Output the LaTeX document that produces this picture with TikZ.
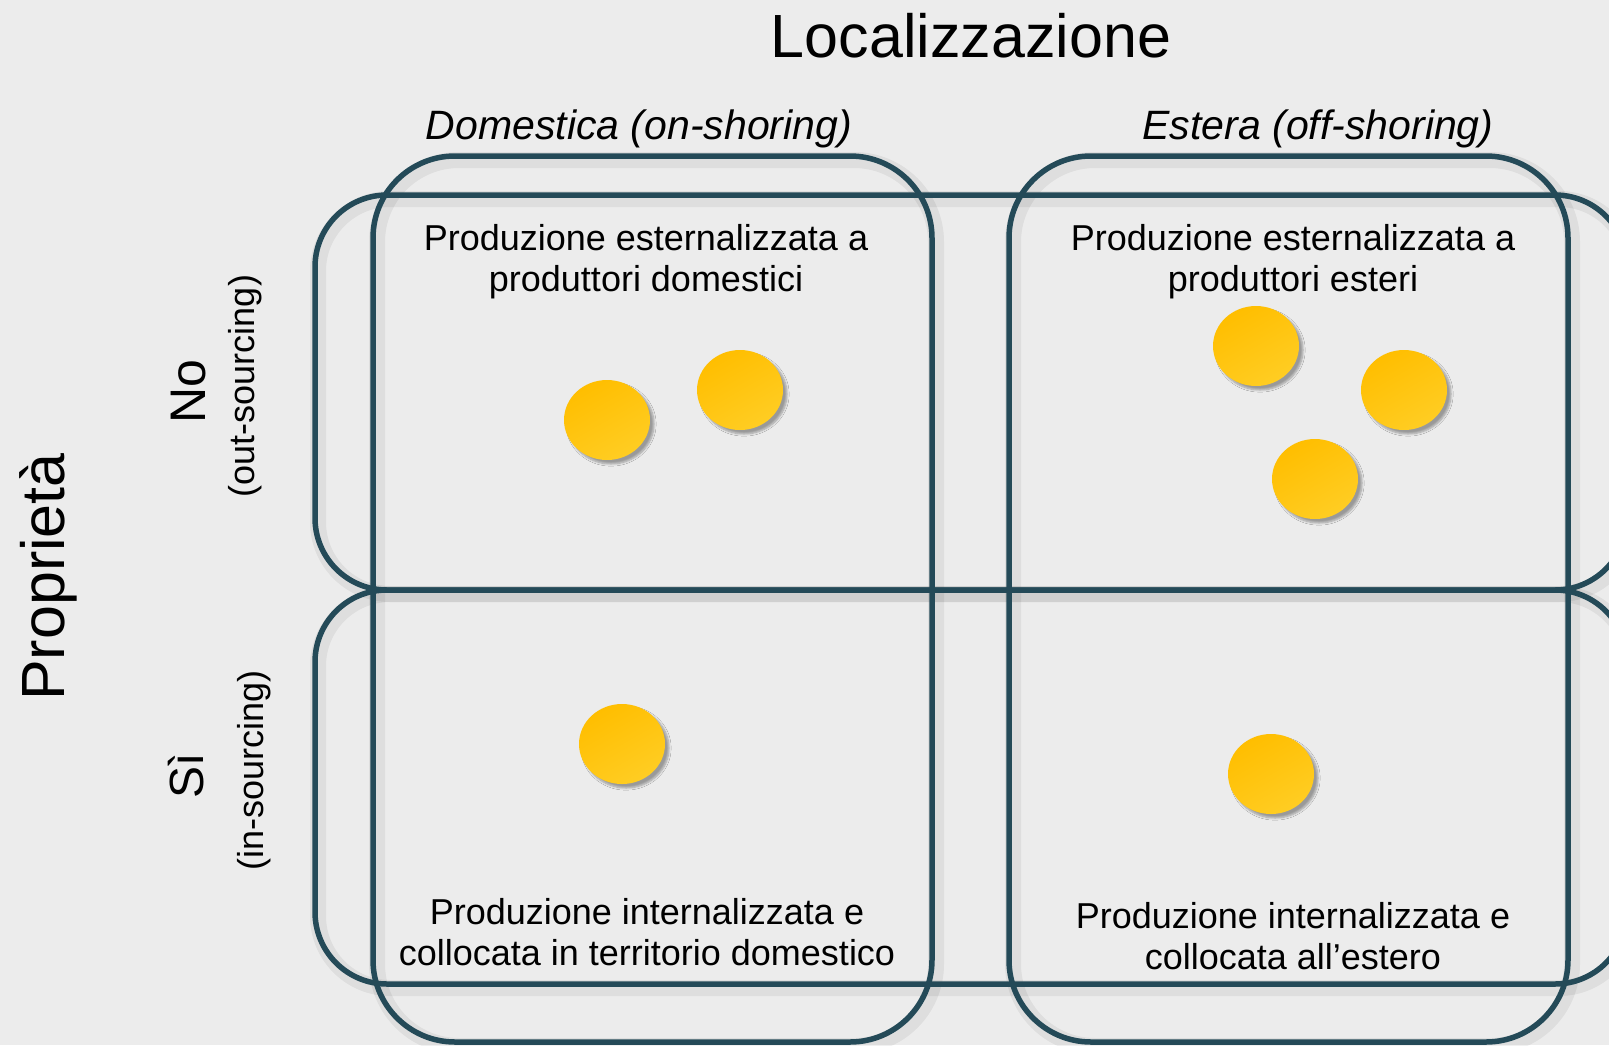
\documentclass[tikz,border=0pt]{standalone}
\usepackage{fontspec}
\setmainfont{Liberation Sans}
\usetikzlibrary{shapes.geometric,shadows.blur}
\definecolor{bg}{RGB}{236,236,236}
\definecolor{frame}{RGB}{36,74,88}
\definecolor{coinA}{RGB}{255,190,0}
\definecolor{coinB}{RGB}{255,205,35}
\begin{document}
\begin{tikzpicture}[x=1pt,y=-1pt,
  box/.style={draw=frame, line width=5.5pt},
  boxshadow/.style={draw=black, opacity=0.06, line width=16pt},
  coin/.style={ellipse, minimum width=86pt, minimum height=80pt, inner sep=0pt,
    draw=none, top color=coinA, bottom color=coinB, shading angle=30,
    blur shadow={shadow xshift=4pt, shadow yshift=-4pt, shadow opacity=35, shadow blur steps=6}},
  htext/.style={inner sep=0pt, anchor=base},
  vtext/.style={rotate=90, inner sep=0pt, anchor=base},
  celltext/.style={htext, align=center, font=\fontsize{36}{41}\selectfont},
]
\useasboundingbox (0,0) rectangle (1609,1045);
\fill[bg] (0,0) rectangle (1609,1045);
\begin{scope}
\clip (0,0) rectangle (1609,1045);
% shadows of frames
\draw[boxshadow, rounded corners=72pt] (318,199) rectangle (1631,594);
\draw[boxshadow, rounded corners=72pt] (318,594) rectangle (1631,988);
\draw[boxshadow, rounded corners=82pt] (377,160) rectangle (936,1046);
\draw[boxshadow, rounded corners=82pt] (1013,160) rectangle (1572,1046);
% frames
\draw[box, rounded corners=72pt] (315,195) rectangle (1627,590);
\draw[box, rounded corners=72pt] (315,590) rectangle (1627,984);
\draw[box, rounded corners=82pt] (373,156) rectangle (932,1042);
\draw[box, rounded corners=82pt] (1009,156) rectangle (1568,1042);
\end{scope}
% coins
\node[coin] (c1) at (607,420) {};
\node[coin] (c2) at (740,390) {};
\node[coin] (c3) at (1256,346) {};
\node[coin] (c4) at (1404,390) {};
\node[coin] (c5) at (1315,479) {};
\node[coin] (c6) at (622,744) {};
\node[coin] (c7) at (1271,774) {};
% headings
\node[htext, font=\fontsize{61}{70}\selectfont] (title) at (971,57) {Localizzazione};
\node[htext, font=\fontsize{41}{48}\selectfont\itshape] (hdom) at (639,139) {Domestica (on-shoring)};
\node[htext, font=\fontsize{41}{48}\selectfont\itshape] (hest) at (1318,139) {Estera (off-shoring)};
% row labels
\node[vtext, font=\fontsize{61}{70}\selectfont] (prop) at (64,577) {Proprietà};
\node[vtext, font=\fontsize{50}{60}\selectfont] (no) at (205,392) {No};
\node[vtext, font=\fontsize{36}{42}\selectfont] (nosub) at (254,386) {(out-sourcing)};
\node[vtext, font=\fontsize{48}{60}\selectfont] (si) at (203,776) {Sì};
\node[vtext, font=\fontsize{36}{42}\selectfont] (sisub) at (263,770) {(in-sourcing)};
% cell texts (anchor = baseline of last line)
\node[celltext] (tl) at (646,291) {Produzione esternalizzata a\\produttori domestici};
\node[celltext] (tr) at (1293,291) {Produzione esternalizzata a\\produttori esteri};
\node[celltext] (bl) at (647,965) {Produzione internalizzata e\\collocata in territorio domestico};
\node[celltext] (br) at (1293,969) {Produzione internalizzata e\\collocata all’estero};
\end{tikzpicture}
\end{document}
